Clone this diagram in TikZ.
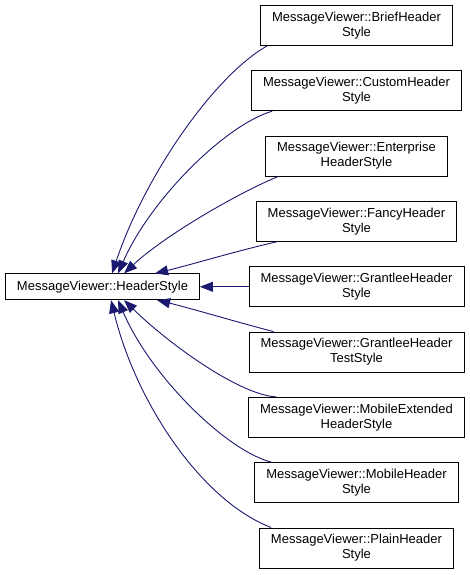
\documentclass[tikz,border=0pt]{standalone}
\usepackage{fontspec}
\setmainfont{Liberation Sans}
\usetikzlibrary{arrows.meta}
\definecolor{edgeblue}{HTML}{191970}
\tikzset{
  cls/.style={draw=black, line width=0.8pt, fill=white, inner xsep=11.5pt, inner ysep=0pt,
    align=center, font=\fontsize{13}{15}\selectfont},
  one/.style={cls, minimum height=26pt},
  two/.style={cls, minimum height=40pt},
  edge/.style={draw=edgeblue, line width=0.9pt, -{Triangle[length=13pt,width=10pt]}},
}
\begin{document}
\begin{tikzpicture}[x=1pt,y=-1pt]
\useasboundingbox (0,0) rectangle (469,575);
\node[one] (base) at (102.5,286.8) {MessageViewer::HeaderStyle};
\node[two] (b1) at (356.5,25.5) {MessageViewer::BriefHeader\\Style};
\node[two] (b2) at (356.5,90.8) {MessageViewer::CustomHeader\\Style};
\node[two] (b3) at (356.5,156.1) {MessageViewer::Enterprise\\HeaderStyle};
\node[two] (b4) at (356.5,221.4) {MessageViewer::FancyHeader\\Style};
\node[two] (b5) at (356.5,286.8) {MessageViewer::GrantleeHeader\\Style};
\node[two] (b6) at (356.5,352) {MessageViewer::GrantleeHeader\\TestStyle};
\node[two] (b7) at (356.5,417.3) {MessageViewer::MobileExtended\\HeaderStyle};
\node[two] (b8) at (356.5,482.6) {MessageViewer::MobileHeader\\Style};
\node[two] (b9) at (356.5,547.9) {MessageViewer::PlainHeader\\Style};

\draw[edge] ([xshift=7pt]b1.south west) .. controls (215,75) and (145,175) .. ([xshift=107pt]base.north west);
\draw[edge] ([xshift=21pt]b2.south west) .. controls (225,125) and (150,200) .. ([xshift=113pt]base.north west);
\draw[edge] ([xshift=13pt]b3.south west) .. controls (240,192) and (165,235) .. ([xshift=119pt]base.north west);
\draw[edge] ([xshift=21pt]b4.south west) .. controls (240,250) and (190,265) .. ([xshift=150pt]base.north west);
\draw[edge] (b5.west) -- (base.east);
\draw[edge] ([xshift=25pt]b6.north west) .. controls (240,323) and (190,308) .. ([xshift=152pt]base.south west);
\draw[edge] ([xshift=28pt]b7.north west) .. controls (240,395) and (170,345) .. ([xshift=119pt]base.south west);
\draw[edge] ([xshift=17pt]b8.north west) .. controls (225,450) and (150,375) .. ([xshift=113pt]base.south west);
\draw[edge] ([xshift=12pt]b9.north west) .. controls (200,500) and (135,400) .. ([xshift=106pt]base.south west);
\end{tikzpicture}
\end{document}
